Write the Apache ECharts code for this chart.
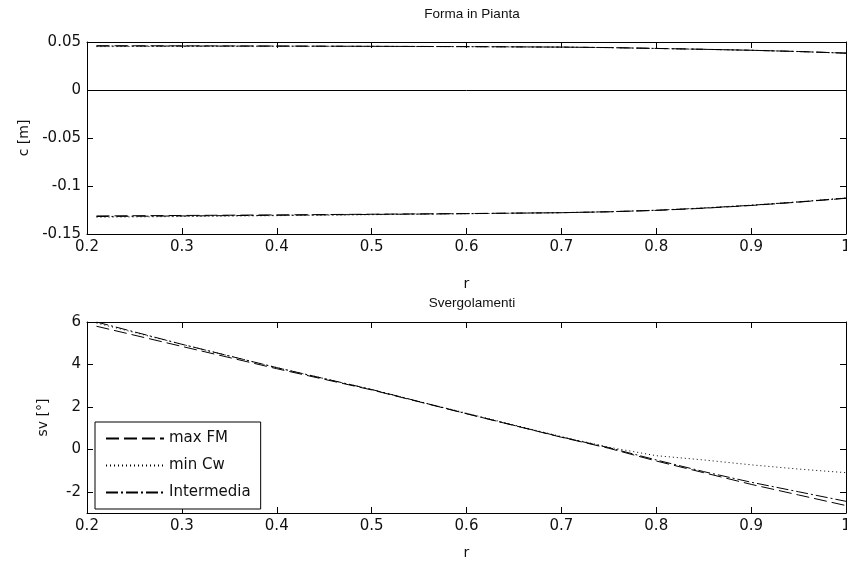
<!DOCTYPE html>
<html>
<head>
<meta charset="utf-8">
<script src="https://cdn.jsdelivr.net/npm/echarts@6/dist/echarts.min.js"></script>
<style>
  html, body { margin: 0; padding: 0; background: #fff; }
  #chart { width: 847px; height: 561px; }
</style>
</head>
<body>
<div id="chart"></div>
<script>
// punti lungo il raggio
var rPts = [0.21, 0.3, 0.4, 0.5, 0.6, 0.7, 0.75, 0.8, 0.85, 0.9, 0.95, 1.0];

// forma in pianta: bordo d'attacco / bordo d'uscita [m]
var leMaxFM = [0.0461, 0.0460, 0.0458, 0.0455, 0.0452, 0.0447, 0.0442, 0.0433, 0.0424, 0.0414, 0.0401, 0.0384];
var leMinCw = [0.0452, 0.0454, 0.0455, 0.0454, 0.0451, 0.0446, 0.0441, 0.0432, 0.0423, 0.0413, 0.0400, 0.0383];
var leInterm = [0.0458, 0.0458, 0.0457, 0.0455, 0.0452, 0.0447, 0.0442, 0.0433, 0.0424, 0.0414, 0.0401, 0.0384];
var teMaxFM = [-0.1312, -0.1307, -0.1301, -0.1294, -0.1287, -0.1278, -0.1269, -0.1254, -0.1232, -0.1203, -0.1168, -0.1128];
var teMinCw = [-0.1325, -0.1318, -0.1309, -0.1299, -0.1289, -0.1278, -0.1268, -0.1252, -0.1228, -0.1199, -0.1165, -0.1125];
var teInterm = [-0.1318, -0.1312, -0.1305, -0.1296, -0.1288, -0.1278, -0.1268, -0.1253, -0.1230, -0.1201, -0.1166, -0.1126];

// svergolamenti [°]
var svMaxFM = [5.80, 4.85, 3.80, 2.80, 1.68, 0.57, 0.05, -0.55, -1.10, -1.65, -2.15, -2.65];
var svMinCw = [5.95, 4.95, 3.85, 2.82, 1.70, 0.60, 0.10, -0.30, -0.50, -0.73, -0.93, -1.10];
var svInterm = [6.00, 4.95, 3.85, 2.82, 1.68, 0.58, 0.08, -0.50, -1.05, -1.55, -2.00, -2.45];

var names = ["max FM", "min Cw", "Intermedia"];
var svTicks = [-2, 0, 2, 4, 6];

var dashes = [[13, 5], [1, 3], [12, 3, 2, 3]];

function pairs(vals) {
  return rPts.map(function (r, i) { return [r, vals[i]]; });
}

function serie(name, idx, grid, vals) {
  return {
    name: name,
    type: "line",
    xAxisIndex: grid * 2,
    yAxisIndex: grid * 2,
    symbol: "none",
    silent: true,
    animation: false,
    lineStyle: { color: "#000", width: 1, type: dashes[idx] },
    itemStyle: { color: "#000" },
    data: pairs(vals)
  };
}

var tickFont = { fontFamily: "DejaVu Sans", fontSize: 15, color: "#111" };

function xAx(grid, pos, labels, gap) {
  return {
    type: "value",
    gridIndex: grid,
    position: pos,
    min: 0.2,
    max: 1,
    interval: 0.1,
    name: labels ? "r" : "",
    nameLocation: "middle",
    nameGap: gap || 33,
    nameTextStyle: { fontFamily: "DejaVu Sans", fontSize: 14, color: "#111" },
    axisLine: { show: true, onZero: false, lineStyle: { color: "#000", width: 1 } },
    axisTick: { show: true, inside: true, length: 6, lineStyle: { color: "#000" } },
    axisLabel: Object.assign({ show: labels, margin: 6 }, tickFont),
    splitLine: { show: false }
  };
}

function yAx(grid, pos, labels, opts) {
  return Object.assign({
    type: "value",
    gridIndex: grid,
    position: pos,
    nameLocation: "middle",
    nameTextStyle: { fontFamily: "DejaVu Sans", fontSize: 14, color: "#111" },
    axisLine: { show: true, onZero: false, lineStyle: { color: "#000", width: 1 } },
    axisTick: { show: true, inside: true, length: 6, lineStyle: { color: "#000" } },
    axisLabel: Object.assign({ show: labels, margin: 6 }, tickFont),
    splitLine: { show: false }
  }, opts);
}

var chart = echarts.init(document.getElementById("chart"), null, { renderer: "canvas" });

var series = [];
// pannello superiore
series.push(serie(names[0], 0, 0, leMaxFM));
series.push(serie(names[0], 0, 0, teMaxFM));
series.push(serie(names[1], 1, 0, leMinCw));
series.push(serie(names[1], 1, 0, teMinCw));
series.push(serie(names[2], 2, 0, leInterm));
series.push(serie(names[2], 2, 0, teInterm));
// linea dell'asse c = 0
series[0].markLine = {
  silent: true,
  symbol: "none",
  label: { show: false },
  lineStyle: { color: "#000", width: 1, type: "solid" },
  data: [{ yAxis: 0 }]
};
// pannello inferiore
series.push(serie(names[0], 0, 1, svMaxFM));
series.push(serie(names[1], 1, 1, svMinCw));
series.push(serie(names[2], 2, 1, svInterm));

chart.setOption({
  backgroundColor: "#fff",
  animation: false,
  title: [
    { text: "Forma in Pianta", left: 467, top: 2, textAlign: "center",
      textStyle: { fontFamily: "Liberation Sans", fontSize: 13.5, fontWeight: "normal", color: "#111" } },
    { text: "Svergolamenti", left: 467, top: 291, textAlign: "center",
      textStyle: { fontFamily: "Liberation Sans", fontSize: 13.5, fontWeight: "normal", color: "#111" } }
  ],
  grid: [
    { left: 87, top: 42, width: 759, height: 192, outerBoundsMode: "none" },
    { left: 87, top: 322, width: 759, height: 191, outerBoundsMode: "none" }
  ],
  legend: {
    data: names,
    orient: "vertical",
    left: 95,
    top: 422,
    itemWidth: 58,
    itemHeight: 14,
    itemGap: 12,
    padding: [9, 10, 9, 10],
    borderColor: "#000",
    borderWidth: 1,
    borderRadius: 0,
    backgroundColor: "#fff",
    selectedMode: false,
    itemStyle: { opacity: 0 },
    textStyle: { fontFamily: "DejaVu Sans", fontSize: 15, color: "#111" }
  },
  xAxis: [
    xAx(0, "bottom", true, 43),
    xAx(0, "top", false),
    xAx(1, "bottom", true, 33),
    xAx(1, "top", false)
  ],
  yAxis: [
    yAx(0, "left", true, { min: -0.15, max: 0.05, interval: 0.05, name: "c [m]", nameGap: 56 }),
    yAx(0, "right", false, { min: -0.15, max: 0.05, interval: 0.05 }),
    yAx(1, "left", true, {
      min: -3, max: 6, name: "sv [°]", nameGap: 37,
      axisTick: { show: true, inside: true, length: 6, lineStyle: { color: "#000" }, customValues: svTicks },
      axisLabel: Object.assign({ show: true, margin: 6, customValues: svTicks }, tickFont)
    }),
    yAx(1, "right", false, {
      min: -3, max: 6,
      axisTick: { show: true, inside: true, length: 6, lineStyle: { color: "#000" }, customValues: svTicks }
    })
  ],
  series: series
});
</script>
</body>
</html>
